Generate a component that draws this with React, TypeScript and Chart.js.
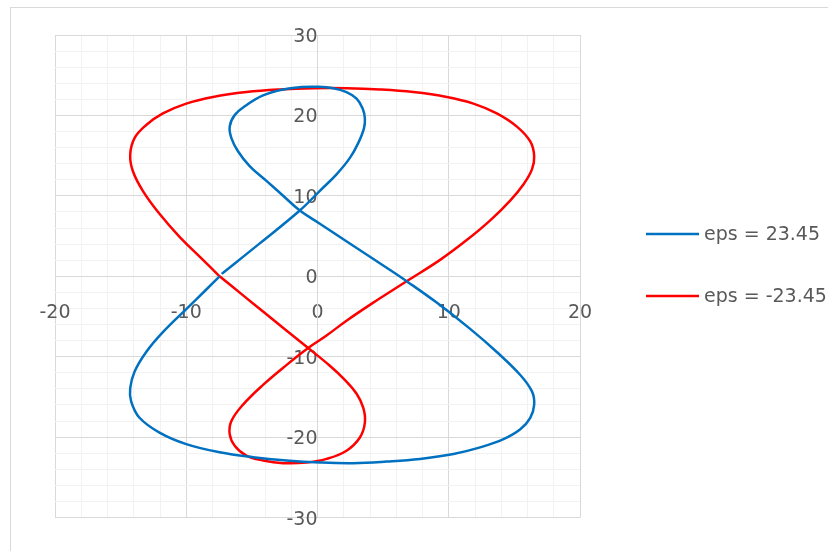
import React, { useEffect, useRef } from "react";
import { Chart, registerables } from "chart.js";

Chart.register(...registerables);

// Series names and colours
const seriesLabels = ["eps = 23.45", "eps = -23.45"];
const seriesColors = ["#0070C0", "#FF0000"];

// eps = 23.45 : x = time offset, y = declination
const posX = [
  -7.3, -4.4, -1.35, 0.18, 1.45, 2.47, 3.1, 3.54, 3.61, 3.44, 2.98, 2.21, 1.2, -0.08, -1.22,
  -2.62, -4.15, -5.42, -6.31, -6.69, -6.56, -6.06, -5.17, -3.89, -2.62, -1.35, 0.18, 2.72, 5.27,
  6.79, 9.08, 11.63, 13.66, 15.45, 16.34, 16.51, 16.21, 15.45, 14.17, 12.39, 10.36, 7.81, 5.27,
  2.72, 0.18, -2.37, -4.91, -7.46, -10.0, -12.04, -13.56, -14.2, -14.27, -13.94, -13.05, -11.78,
  -10.0, -8.47, -7.46,
];
const posY = [
  0.3, 4.09, 8.18, 10.63, 12.68, 14.72, 16.56, 18.4, 19.63, 20.86, 22.09, 22.9, 23.39, 23.56,
  23.52, 23.23, 22.49, 21.27, 20.04, 18.61, 17.18, 15.54, 13.7, 11.86, 10.02, 8.18, 6.54, 3.8,
  1.06, -0.61, -3.27, -6.54, -9.41, -12.27, -14.31, -15.95, -17.59, -19.02, -20.25, -21.27,
  -22.09, -22.7, -23.03, -23.23, -23.15, -22.9, -22.49, -21.88, -20.86, -19.43, -17.59, -15.54,
  -13.91, -11.86, -9.41, -6.95, -4.09, -1.64, 0,
];

// eps = -23.45
const negX = [
  -7.46, -8.98, -10.51, -12.04, -13.31, -14.07, -14.27, -13.94, -13.05, -11.78, -10.0, -7.96,
  -5.42, -2.88, -0.33, 2.21, 4.76, 7.3, 9.85, 11.88, 13.66, 15.19, 16.21, 16.51, 16.34, 15.7,
  14.68, 13.16, 11.37, 9.34, 6.67, 4.25, 2.21, 0.69, -0.71, -2.37, -4.15, -5.67, -6.56, -6.69,
  -6.31, -5.42, -4.15, -2.62, -0.84, 0.69, 2.21, 3.23, 3.61, 3.49, 2.98, 2.1, 0.94, -0.71, -2.37,
  -4.15, -5.67, -7.46,
];
const negY = [
  0, 2.45, 4.91, 7.77, 10.63, 13.09, 15.13, 17.18, 18.81, 20.25, 21.47, 22.29, 22.9, 23.23,
  23.39, 23.39, 23.23, 22.9, 22.29, 21.47, 20.25, 18.61, 16.77, 14.93, 13.29, 11.45, 9.41, 6.95,
  4.5, 2.04, -0.74, -3.27, -5.52, -7.36, -8.92, -11.04, -13.5, -15.95, -18.0, -19.63, -21.06,
  -22.29, -22.9, -23.23, -23.15, -22.7, -21.68, -20.04, -18.2, -16.36, -14.6, -12.9, -11.12,
  -8.92, -6.75, -4.38, -2.37, 0,
];

// Axis ranges and labelled ticks
const xRange = [-20, 20];
const yRange = [-30, 30];
const gridStep = 2;
const xTickLabels = [-20, -10, 0, 10, 20];
const yTickLabels = [-30, -20, -10, 0, 10, 20, 30];

const FONT = "'DejaVu Sans', sans-serif";
const TEXT = "#595959";
const MAJOR = "#d9d9d9";
const MINOR = "#f2f2f2";

const toPoints = (xs: number[], ys: number[]) => xs.map((x, i) => ({ x, y: ys[i] }));

// Legend drawn at the right of the plot, line sample followed by its label
const sideLegend = {
  id: "sideLegend",
  afterDraw(chart: any) {
    const ctx = chart.ctx;
    const startX = 646;
    const lineLen = 53;
    const firstY = 234;
    const rowGap = 62;
    ctx.save();
    chart.data.datasets.forEach((ds: any, i: number) => {
      const y = firstY + i * rowGap;
      ctx.strokeStyle = ds.borderColor;
      ctx.lineWidth = 2.5;
      ctx.beginPath();
      ctx.moveTo(startX, y);
      ctx.lineTo(startX + lineLen, y);
      ctx.stroke();
      ctx.fillStyle = TEXT;
      ctx.font = `19px ${FONT}`;
      ctx.textAlign = "left";
      ctx.textBaseline = "middle";
      ctx.fillText(ds.label, startX + lineLen + 5, y + 1);
    });
    ctx.restore();
  },
};

export default function App() {
  const canvasRef = useRef<HTMLCanvasElement | null>(null);

  useEffect(() => {
    if (!canvasRef.current) return;
    const gridColor = (ctx: any) => (ctx.tick && ctx.tick.value % 10 === 0 ? MAJOR : MINOR);
    const lineStyle = {
      showLine: true,
      pointRadius: 0,
      pointHoverRadius: 0,
      borderWidth: 2.5,
      tension: 0.4,
    };
    const chart = new Chart(canvasRef.current, {
      type: "scatter",
      data: {
        datasets: [
          {
            label: seriesLabels[0],
            data: toPoints(posX, posY),
            borderColor: seriesColors[0],
            backgroundColor: seriesColors[0],
            ...lineStyle,
          },
          {
            label: seriesLabels[1],
            data: toPoints(negX, negY),
            borderColor: seriesColors[1],
            backgroundColor: seriesColors[1],
            ...lineStyle,
          },
        ],
      },
      options: {
        animation: false,
        responsive: false,
        maintainAspectRatio: false,
        layout: { padding: { left: 55, right: 248, top: 35, bottom: 27 } },
        plugins: { legend: { display: false }, tooltip: { enabled: false } },
        scales: {
          x: {
            type: "linear",
            position: { y: 0 } as any,
            min: xRange[0],
            max: xRange[1],
            afterFit: (s: any) => {
              s.height = 0;
            },
            grid: { color: gridColor, drawTicks: false, lineWidth: 1 },
            border: { color: MAJOR, width: 1 },
            ticks: {
              stepSize: gridStep,
              autoSkip: false,
              maxRotation: 0,
              minRotation: 0,
              padding: 25,
              color: TEXT,
              font: { family: FONT, size: 19 },
              callback: (v: any) => (xTickLabels.includes(Number(v)) ? String(v) : ""),
            },
          },
          y: {
            type: "linear",
            position: { x: 0 } as any,
            min: yRange[0],
            max: yRange[1],
            afterFit: (s: any) => {
              s.width = 0;
            },
            grid: { color: gridColor, drawTicks: false, lineWidth: 1 },
            border: { color: MAJOR, width: 1 },
            ticks: {
              stepSize: gridStep,
              autoSkip: false,
              padding: 22,
              labelOffset: 2,
              color: TEXT,
              font: { family: FONT, size: 19 },
              callback: (v: any) => (yTickLabels.includes(Number(v)) ? String(v) : ""),
            },
          },
        },
      },
      plugins: [sideLegend],
    });
    return () => chart.destroy();
  }, []);

  return (
    <div style={{ position: "fixed", left: 0, top: 0, width: 828, height: 551, background: "#fff", overflow: "hidden" }}>
      <div
        style={{
          position: "absolute",
          left: 10,
          top: 7,
          width: 840,
          height: 560,
          border: "1px solid #d9d9d9",
          boxSizing: "border-box",
        }}
      />
      <canvas ref={canvasRef} width={828} height={551} style={{ position: "absolute", left: 0, top: 0 }} />
    </div>
  );
}
